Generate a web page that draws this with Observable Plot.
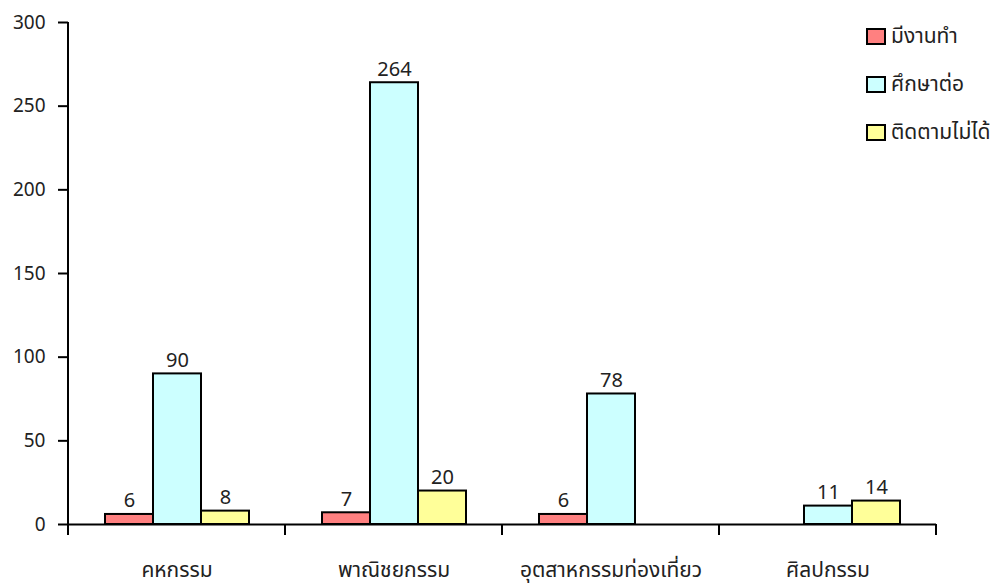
<!DOCTYPE html>
<html>
<head>
<meta charset="utf-8">
<script src="https://cdn.jsdelivr.net/npm/d3@7"></script>
<script src="https://cdn.jsdelivr.net/npm/@observablehq/plot@0.6"></script>
<style>
  html, body { margin: 0; padding: 0; background: white; }
  #wrap { position: relative; width: 997px; height: 585px; font-family: Tahoma, "Noto Sans Thai", "Noto Sans", sans-serif; }
  #legend { position: absolute; left: 866px; top: 23px; font-size: 21px; color: #222; }
  .row { display: flex; align-items: center; height: 26px; margin-bottom: 22px; }
  .sw { width: 16px; height: 13px; border: 2px solid black; margin-right: 5px; }
</style>
</head>
<body>
<div id="wrap"><div id="legend"></div></div>
<script>
const categories = ["คหกรรม", "พาณิชยกรรม", "อุตสาหกรรมท่องเที่ยว", "ศิลปกรรม"];
const series = ["มีงานทำ", "ศึกษาต่อ", "ติดตามไม่ได้"];
const employed = [6, 7, 6, null];
const studying = [90, 264, 78, 11];
const untraced = [8, 20, null, 14];
const colors = ["#FF8080", "#CCFFFF", "#FFFF99"];
const yTicks = [0, 50, 100, 150, 200, 250, 300];

const seriesValues = [employed, studying, untraced];
const rows = [];
categories.forEach((c, i) => {
  series.forEach((s, j) => {
    const v = seriesValues[j][i];
    if (v != null) rows.push({category: c, series: s, value: v});
  });
});

const font = 'Tahoma, "Noto Sans Thai", "Noto Sans", sans-serif';

const plot = Plot.plot({
  width: 997,
  height: 585,
  marginLeft: 68,
  marginRight: 61,
  marginTop: 22,
  marginBottom: 61,
  style: {fontFamily: font, fontSize: "19px", color: "#222", background: "white", overflow: "visible"},
  fx: {domain: categories, padding: 0, label: null},
  x: {domain: series, paddingInner: 0, paddingOuter: 0.75, axis: null},
  y: {domain: [0, 300], axis: null},
  color: {domain: series, range: colors},
  marks: [
    Plot.barY(rows, {fx: "category", x: "series", y: "value", fill: "series", stroke: "black", strokeWidth: 2}),
    Plot.text(rows, {fx: "category", x: "series", y: "value", text: d => String(d.value), lineAnchor: "bottom", dy: -7, fill: "#222", fontSize: 20}),
    Plot.ruleY([0], {stroke: "black", strokeWidth: 2}),
    Plot.axisY({ticks: yTicks, tickSize: 10, tickPadding: 13, label: null, stroke: "black", strokeWidth: 2}),
    Plot.axisFx({anchor: "bottom", tickSize: 0, tickPadding: 38, label: null, fontSize: 21})
  ]
});

// axis line and category boundary ticks drawn from the plot's own scales
const fx = plot.scale("fx");
const y = plot.scale("y");
const svg = d3.select(plot.tagName.toLowerCase() === "svg" ? plot : plot.querySelector("svg"));
const y0 = y.apply(0), yTop = y.apply(300);
const left = fx.apply(categories[0]);
const g = svg.append("g").attr("stroke", "black").attr("stroke-width", 2);
g.append("line").attr("x1", left).attr("x2", left).attr("y1", yTop).attr("y2", y0 + 11);
const bounds = categories.map(c => fx.apply(c)).concat([fx.apply(categories[categories.length - 1]) + fx.bandwidth]);
bounds.forEach(b => g.append("line").attr("x1", b).attr("x2", b).attr("y1", y0).attr("y2", y0 + 11));

document.getElementById("wrap").prepend(plot);

const legend = d3.select("#legend");
series.forEach((s, i) => {
  const r = legend.append("div").attr("class", "row");
  r.append("div").attr("class", "sw").style("background", colors[i]);
  r.append("span").text(s);
});
</script>
</body>
</html>
